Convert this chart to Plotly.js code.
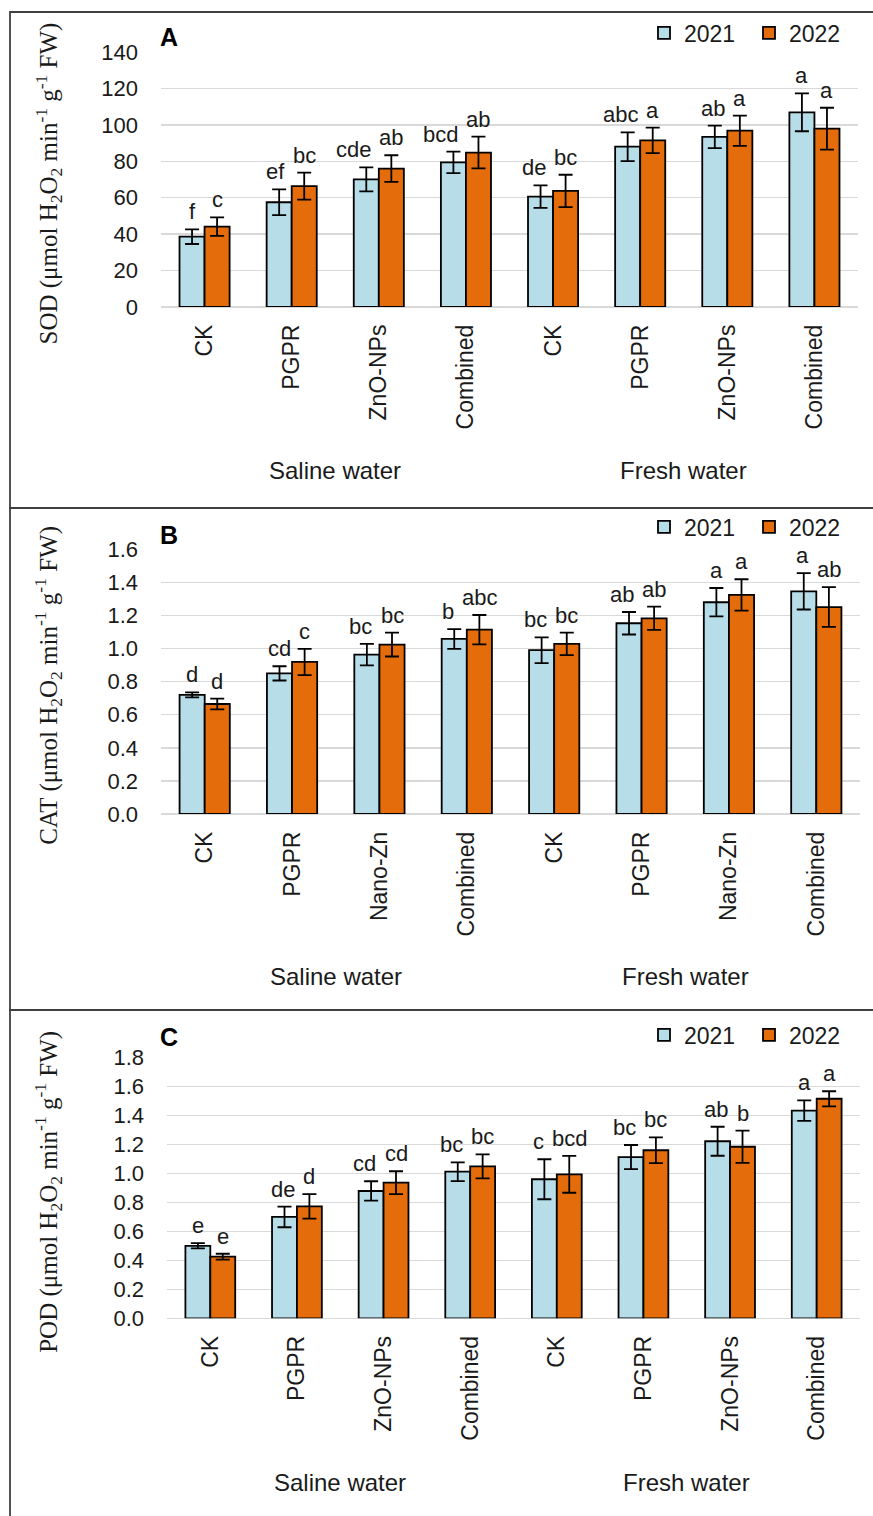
<!DOCTYPE html>
<html>
<head>
<meta charset="utf-8">
<script src="https://cdn.plot.ly/plotly-3.0.1.min.js"></script>
<style>
  html, body { margin: 0; padding: 0; background: #fff; }
  #chart { width: 873px; height: 1516px; }
</style>
</head>
<body>
<div id="chart"></div>
<script>
// ---------------- data ----------------
const categoriesAC = ['CK', 'PGPR', 'ZnO-NPs', 'Combined', 'CK', 'PGPR', 'ZnO-NPs', 'Combined'];
const categoriesB = ['CK', 'PGPR', 'Nano-Zn', 'Combined', 'CK', 'PGPR', 'Nano-Zn', 'Combined'];
const waterGroups = ['Saline water', 'Fresh water'];
const years = ['2021', '2022'];

// Panel A: SOD
const sod2021 = [38.6, 57.5, 70.1, 79.4, 60.6, 88.0, 93.4, 106.9];
const sod2021Err = [4.0, 7.1, 6.6, 5.9, 6.2, 7.9, 6.2, 10.4];
const sod2022 = [44.1, 66.4, 76.0, 84.8, 63.7, 91.5, 96.8, 97.9];
const sod2022Err = [5.1, 7.4, 7.3, 8.7, 8.9, 7.0, 8.3, 11.5];
const sodLetters2021 = ['f', 'ef', 'cde', 'bcd', 'de', 'abc', 'ab', 'a'];
const sodLetters2022 = ['c', 'bc', 'ab', 'ab', 'bc', 'a', 'a', 'a'];

// Panel B: CAT
const cat2021 = [0.72, 0.85, 0.963, 1.058, 0.99, 1.153, 1.28, 1.346];
const cat2021Err = [0.015, 0.043, 0.065, 0.06, 0.078, 0.068, 0.086, 0.11];
const cat2022 = [0.665, 0.919, 1.024, 1.114, 1.028, 1.183, 1.324, 1.251];
const cat2022Err = [0.032, 0.079, 0.072, 0.089, 0.068, 0.07, 0.095, 0.12];
const catLetters2021 = ['d', 'cd', 'bc', 'b', 'bc', 'ab', 'a', 'a'];
const catLetters2022 = ['d', 'c', 'bc', 'abc', 'bc', 'ab', 'a', 'ab'];

// Panel C: POD
const pod2021 = [0.50, 0.699, 0.878, 1.011, 0.959, 1.112, 1.221, 1.432];
const pod2021Err = [0.018, 0.071, 0.067, 0.065, 0.138, 0.083, 0.10, 0.071];
const pod2022 = [0.425, 0.772, 0.935, 1.048, 0.993, 1.159, 1.183, 1.514];
const pod2022Err = [0.02, 0.085, 0.079, 0.083, 0.127, 0.089, 0.111, 0.052];
const podLetters2021 = ['e', 'de', 'cd', 'bc', 'c', 'bc', 'ab', 'a'];
const podLetters2022 = ['e', 'd', 'cd', 'bc', 'bcd', 'bc', 'b', 'a'];

const panelLabels = ['A', 'B', 'C'];
const yTitles = [
  'SOD (μmol H<sub>2</sub>O<sub>2</sub> min<sup>-1</sup> g<sup>-1</sup> FW)',
  'CAT (μmol H<sub>2</sub>O<sub>2</sub> min<sup>-1</sup> g<sup>-1</sup> FW)',
  'POD (μmol H<sub>2</sub>O<sub>2</sub> min<sup>-1</sup> g<sup>-1</sup> FW)'
];
const yRanges = [[0, 140], [0, 1.6], [0, 1.8]];
const yDtick = [20, 0.2, 0.2];
const yFormat = ['d', '.1f', '.1f'];

// ---------------- styling / layout ----------------
const W = 873, H = 1516;
const colors = ['#B7DEE8', '#E46C0A'];
const sans = '"Liberation Sans", Arial, sans-serif';
const serif = '"Liberation Serif", "Times New Roman", serif';
const textColor = '#1a1a1a';
const bargap = 0.425;
const letterSize = 22;

// pixel geometry of each panel (plot area) and box
const panels = [
  { x0: 161, x1: 858, y0: 52, y1: 307, box: [12, 508], legY: 33, lblY: 37, grpY: 470 },
  { x0: 161, x1: 860, y0: 549.3, y1: 814, box: [508, 1010], legY: 527, lblY: 535, grpY: 977 },
  { x0: 167, x1: 860, y0: 1057.3, y1: 1318.3, box: [1010, 1530], legY: 1035, lblY: 1037, grpY: 1482 }
];
const px2x = p => p / W;
const py2y = p => 1 - p / H;

// text width measurement (for keeping neighbouring letters apart)
const ctx = document.createElement('canvas').getContext('2d');
ctx.font = letterSize + 'px "Liberation Sans", Arial, sans-serif';
const textW = t => ctx.measureText(t).width;

const seriesSets = [
  { cats: categoriesAC, v: [sod2021, sod2022], e: [sod2021Err, sod2022Err], l: [sodLetters2021, sodLetters2022] },
  { cats: categoriesB, v: [cat2021, cat2022], e: [cat2021Err, cat2022Err], l: [catLetters2021, catLetters2022] },
  { cats: categoriesAC, v: [pod2021, pod2022], e: [pod2021Err, pod2022Err], l: [podLetters2021, podLetters2022] }
];

const data = [];
const annotations = [];
const shapes = [];
const layout = {
  width: W, height: H,
  margin: { l: 0, r: 0, t: 0, b: 0 },
  paper_bgcolor: '#fff', plot_bgcolor: '#fff',
  barmode: 'group', bargap: bargap, bargroupgap: 0,
  showlegend: true,
  font: { family: sans, color: textColor }
};

seriesSets.forEach((set, p) => {
  const g = panels[p];
  const sfx = p === 0 ? '' : String(p + 1);
  const xa = 'x' + sfx, ya = 'y' + sfx;
  const legendId = 'legend' + sfx;
  const xIdx = set.cats.map((_, i) => i);

  years.forEach((yr, s) => {
    data.push({
      type: 'bar', name: yr, x: xIdx, y: set.v[s],
      xaxis: xa, yaxis: ya, legend: legendId,
      marker: { color: colors[s], line: { color: '#000', width: 1.8 } },
      error_y: { type: 'data', array: set.e[s], visible: true, color: '#000', thickness: 1.8, width: 7 },
      hoverinfo: 'skip'
    });
  });

  layout['xaxis' + sfx] = {
    domain: [px2x(g.x0), px2x(g.x1)], anchor: ya,
    range: [-0.5, set.cats.length - 0.5],
    tickmode: 'array', tickvals: xIdx, ticktext: set.cats,
    tickangle: -90, ticks: '', showgrid: false, zeroline: false, showline: false,
    ticklabelstandoff: 12,
    tickfont: { family: sans, size: 23, color: textColor }, fixedrange: true
  };
  layout['yaxis' + sfx] = {
    domain: [py2y(g.y1), py2y(g.y0)], anchor: xa,
    range: yRanges[p], dtick: yDtick[p], tick0: 0, tickformat: yFormat[p],
    showgrid: true, gridcolor: '#D9D9D9', gridwidth: 1.5,
    zeroline: true, zerolinecolor: '#D9D9D9', zerolinewidth: 1.5,
    showline: false, ticks: '', ticklabelstandoff: 22,
    tickfont: { family: sans, size: 22, color: textColor }, fixedrange: true
  };
  layout[legendId] = {
    orientation: 'h', x: px2x(644), xanchor: 'left', y: py2y(g.legY), yanchor: 'middle',
    font: { family: sans, size: 23, color: textColor }, bgcolor: 'rgba(0,0,0,0)',
    entrywidth: 60, entrywidthmode: 'pixels', traceorder: 'normal'
  };

  // significance letters: centred over each bar; 2021 letter nudged left when it would touch the 2022 letter
  const barPx = (g.x1 - g.x0) / set.cats.length * (1 - bargap) / 2;
  set.cats.forEach((_, i) => {
    const t1 = set.l[0][i], t2 = set.l[1][i];
    const w1 = textW(t1), w2 = textW(t2);
    const minGap = 8;
    const overlap = (-barPx / 2 + w1 / 2) - (barPx / 2 - w2 / 2) + minGap;
    const shift1 = overlap > 0 ? -overlap : 0;
    [t1, t2].forEach((txt, s) => {
      annotations.push({
        xref: xa, yref: ya, x: i, y: set.v[s][i] + set.e[s][i],
        xshift: (s === 0 ? -barPx / 2 + shift1 : barPx / 2), yshift: 3,
        yanchor: 'bottom', xanchor: 'center', showarrow: false,
        text: txt, font: { family: sans, size: letterSize, color: textColor }
      });
    });
  });

  // group labels
  waterGroups.forEach((gr, k) => {
    annotations.push({
      xref: xa, yref: 'paper', x: k * 4 + 1.5, y: py2y(g.grpY),
      xanchor: 'center', yanchor: 'middle', showarrow: false,
      text: gr, font: { family: sans, size: 24, color: textColor }
    });
  });

  // y title
  annotations.push({
    xref: 'paper', yref: 'paper', x: px2x(48), y: py2y((g.y0 + g.y1) / 2 + 4),
    xanchor: 'center', yanchor: 'middle', textangle: -90, showarrow: false,
    text: yTitles[p], font: { family: serif, size: 25, color: textColor }
  });

  // panel letter
  annotations.push({
    xref: 'paper', yref: 'paper', x: px2x(158), y: py2y(g.lblY),
    xanchor: 'left', yanchor: 'middle', showarrow: false,
    text: '<b>' + panelLabels[p] + '</b>', font: { family: sans, size: 25, color: '#000' }
  });

  // panel border
  shapes.push({
    type: 'rect', xref: 'paper', yref: 'paper',
    x0: px2x(10), x1: px2x(W + 10), y0: py2y(g.box[1]), y1: py2y(g.box[0]),
    line: { color: '#404040', width: 1.8 }, fillcolor: 'rgba(0,0,0,0)', layer: 'above'
  });
});

layout.annotations = annotations;
layout.shapes = shapes;

Plotly.newPlot('chart', data, layout, { displayModeBar: false, staticPlot: true });
</script>
</body>
</html>
